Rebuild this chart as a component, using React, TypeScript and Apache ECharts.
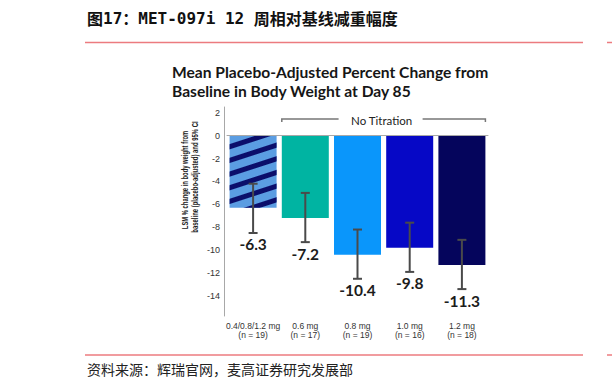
import React, { useEffect, useRef } from 'react';
import * as echarts from 'echarts';

// ---- data ----
const categories = ['0.4/0.8/1.2 mg', '0.6 mg', '0.8 mg', '1.0 mg', '1.2 mg'];
const sampleSizes = ['(n = 19)', '(n = 17)', '(n = 19)', '(n = 16)', '(n = 18)'];
const meanChange = [-6.3, -7.2, -10.4, -9.8, -11.3];
const ciUpper = [-4.2, -5.0, -8.2, -7.6, -9.1];
const ciLower = [-8.5, -9.3, -12.5, -11.9, -13.4];
const yTicks = [2, 0, -2, -4, -6, -8, -10, -12, -14];
const bracketFrom = 1;
const bracketTo = 4;
const bracketLabel = 'No Titration';

const barColors = ['#5b9de2', '#00b4a2', '#0a96fb', '#0608c6', '#05055c'];

export default function App() {
  const ref = useRef<HTMLDivElement>(null);
  useEffect(() => {
    const chart = echarts.init(ref.current!, null, { renderer: 'svg' });
    const stripe = {
      symbol: 'rect',
      symbolSize: 1,
      color: '#0b0e6b',
      dashArrayX: [1, 0],
      dashArrayY: [5, 8],
      rotation: -Math.PI / 10,
    };
    const yTitleStyle = {
      align: 'center',
      verticalAlign: 'middle',
      textAlign: 'center',
      textVerticalAlign: 'middle',
      fontFamily: 'Liberation Sans',
      fontWeight: 'bold',
      fontSize: 9,
      fill: '#222',
    };
    const option: any = {
      animation: false,
      backgroundColor: '#ffffff',
      grid: { left: 227, right: 124, top: 107, bottom: 70, containLabel: false },
      xAxis: {
        type: 'category',
        data: categories.map((c, i) => c + '\n' + sampleSizes[i]),
        axisLine: { show: true, lineStyle: { color: '#a8a8a8', width: 1 } },
        axisTick: { show: false },
        axisLabel: {
          interval: 0,
          fontSize: 8.5,
          lineHeight: 9,
          margin: 5,
          color: '#333',
          fontFamily: 'Liberation Sans',
        },
      },
      yAxis: {
        type: 'value',
        min: -15.75,
        max: 2.5,
        offset: 3,
        axisLine: { show: true, lineStyle: { color: '#a8a8a8', width: 1 } },
        axisTick: { show: false },
        splitLine: { show: false },
        axisLabel: {
          customValues: yTicks,
          fontSize: 9,
          margin: 4,
          color: '#333',
          fontFamily: 'Liberation Sans',
        },
      },
      series: [
        {
          type: 'bar',
          barWidth: 47,
          data: meanChange.map((v, i) => ({
            value: v,
            itemStyle: i === 0 ? { color: barColors[i], decal: stripe } : { color: barColors[i] },
          })),
          markLine: {
            silent: true,
            symbol: ['none', 'none'],
            label: { show: false },
            lineStyle: { color: '#a8a8a8', width: 1, type: 'solid' },
            data: [{ yAxis: 0 }],
          },
        },
        {
          type: 'custom',
          z: 5,
          encode: { x: 0, y: [1, 2] },
          data: categories.map((c, i) => [i, ciUpper[i], ciLower[i], meanChange[i]]),
          renderItem: (params: any, api: any) => {
            const i = api.value(0);
            const top = api.coord([i, api.value(1)]);
            const bot = api.coord([i, api.value(2)]);
            const x = top[0];
            const cap = 4.5;
            const stroke = '#4a4a4a';
            return {
              type: 'group',
              children: [
                { type: 'line', shape: { x1: x, y1: top[1], x2: x, y2: bot[1] }, style: { stroke, lineWidth: 2 } },
                { type: 'line', shape: { x1: x - cap, y1: top[1], x2: x + cap, y2: top[1] }, style: { stroke, lineWidth: 2 } },
                { type: 'line', shape: { x1: x - cap, y1: bot[1], x2: x + cap, y2: bot[1] }, style: { stroke, lineWidth: 2 } },
                {
                  type: 'text',
                  x: x,
                  y: bot[1] + 11.5,
                  style: {
                    text: Number(api.value(3)).toFixed(1),
                    align: 'center',
                    verticalAlign: 'middle',
                    textAlign: 'center',
                    textVerticalAlign: 'middle',
                    fontFamily: 'Lato',
                    fontWeight: 'bold',
                    fontSize: 15.5,
                    fill: '#1c1c1c',
                  },
                },
              ],
            };
          },
        },
        {
          type: 'custom',
          z: 5,
          clip: false,
          encode: { x: [0, 1], y: 2 },
          data: [[bracketFrom, bracketTo, 1.45]],
          renderItem: (params: any, api: any) => {
            const p1 = api.coord([api.value(0), api.value(2)]);
            const p2 = api.coord([api.value(1), api.value(2)]);
            const half = 23.5;
            const l = p1[0] - half;
            const r = p2[0] + half;
            const y = p1[1];
            const mid = (l + r) / 2 - 2;
            const stroke = '#777';
            return {
              type: 'group',
              children: [
                { type: 'polyline', shape: { points: [[l, y + 3], [l, y], [mid - 43, y]] }, style: { stroke, lineWidth: 1.5, fill: 'none' } },
                { type: 'polyline', shape: { points: [[mid + 41, y], [r, y], [r, y + 3]] }, style: { stroke, lineWidth: 1.5, fill: 'none' } },
                {
                  type: 'text',
                  x: mid,
                  y: y + 1,
                  style: {
                    text: bracketLabel,
                    align: 'center',
                    verticalAlign: 'middle',
                    textAlign: 'center',
                    textVerticalAlign: 'middle',
                    fontFamily: 'Lato',
                    fontSize: 11.5,
                    fill: '#222',
                  },
                },
              ],
            };
          },
        },
      ],
      graphic: [
        {
          type: 'text',
          left: 87,
          top: 10,
          style: {
            text: '{a|图}{b|17}{a|：}{b|MET-097i 12 }{a|周相对基线减重幅度}',
            rich: {
              a: { fontFamily: 'Noto Sans CJK SC', fontWeight: 'bold', fontSize: 16, fill: '#111' },
              b: { fontFamily: 'DejaVu Sans Mono', fontWeight: 'bold', fontSize: 16, fill: '#111' },
            },
          },
        },
        { type: 'line', shape: { x1: 85, y1: 42.5, x2: 583, y2: 42.5 }, style: { stroke: '#ec7b7f', lineWidth: 1.5 } },
        { type: 'line', shape: { x1: 607, y1: 42.5, x2: 612, y2: 42.5 }, style: { stroke: '#ec7b7f', lineWidth: 1.5 } },
        { type: 'line', shape: { x1: 85, y1: 355, x2: 583, y2: 355 }, style: { stroke: '#ec7b7f', lineWidth: 1.5 } },
        { type: 'line', shape: { x1: 607, y1: 355, x2: 612, y2: 355 }, style: { stroke: '#ec7b7f', lineWidth: 1.5 } },
        {
          type: 'text',
          x: 87,
          y: 368.5,
          style: {
            text: '资料来源：辉瑞官网，麦高证券研究发展部',
            textVerticalAlign: 'middle',
            verticalAlign: 'middle',
            fontFamily: 'Noto Sans CJK SC',
            fontSize: 14,
            fill: '#222',
          },
        },
        {
          type: 'text',
          x: 172,
          y: 71.5,
          style: {
            text: 'Mean Placebo-Adjusted Percent Change from',
            textVerticalAlign: 'middle',
            verticalAlign: 'middle',
            fontFamily: 'Lato',
            fontWeight: 'bold',
            fontSize: 15.6,
            fill: '#161616',
          },
        },
        {
          type: 'text',
          x: 172,
          y: 90.5,
          style: {
            text: 'Baseline in Body Weight at Day 85',
            textVerticalAlign: 'middle',
            verticalAlign: 'middle',
            fontFamily: 'Lato',
            fontWeight: 'bold',
            fontSize: 15.6,
            fill: '#161616',
          },
        },
        {
          type: 'text',
          x: 185,
          y: 180,
          rotation: Math.PI / 2,
          scaleX: 0.65,
          style: { ...yTitleStyle, text: 'LSM % change in body weight from' },
        },
        {
          type: 'text',
          x: 195,
          y: 177,
          rotation: Math.PI / 2,
          scaleX: 0.66,
          style: { ...yTitleStyle, text: 'baseline (placebo-adjusted) and 95% CI' },
        },
      ],
    };
    chart.setOption(option);
    return () => chart.dispose();
  }, []);
  return (
    <div
      ref={ref}
      style={{ position: 'fixed', left: 0, top: 0, width: 612, height: 386, background: '#fff' }}
    />
  );
}
